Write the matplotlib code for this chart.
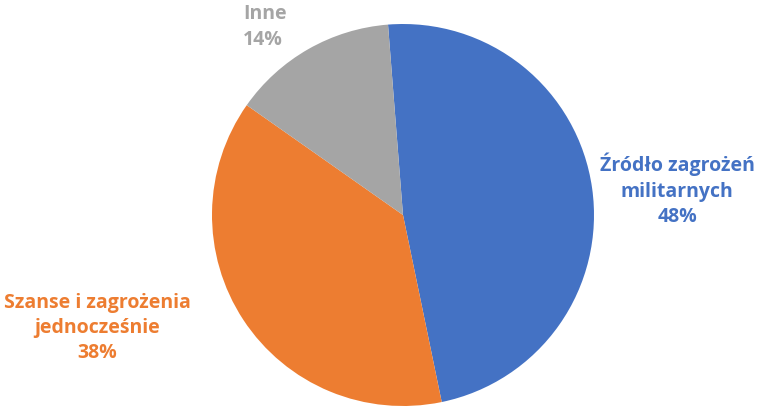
import matplotlib.pyplot as plt

labels = ["Źródło zagrożeń\nmilitarnych", "Szanse i zagrożenia\njednocześnie", "Inne"]
values = [48, 38, 14]
colors = ["#4472C4", "#ED7D31", "#A5A5A5"]

fig = plt.figure(figsize=(7.64, 4.08), dpi=100)
ax = fig.add_axes([0, 0, 1, 1])
ax.set_xlim(0, 764)
ax.set_ylim(0, 408)
ax.set_aspect("equal")
ax.axis("off")

ax.pie(values, colors=colors, startangle=94.5, counterclock=False,
       center=(403, 193), radius=191, frame=True,
       wedgeprops=dict(linewidth=0))
ax.set_xlim(0, 764)
ax.set_ylim(0, 408)
ax.axis("off")

# label positions (pixels from bottom)
pos = [(677, 218, "center"), (97, 80, "center"), (243, 381, "left")]
for (x, y, ha), lab, v, c in zip(pos, labels, values, colors):
    ax.text(x, y, f"{lab}\n{v}%", ha=ha, va="center", color=c,
            fontsize=14, fontweight="bold", family="Open Sans",
            linespacing=1.35)

fig.savefig("out.png", dpi=100)
